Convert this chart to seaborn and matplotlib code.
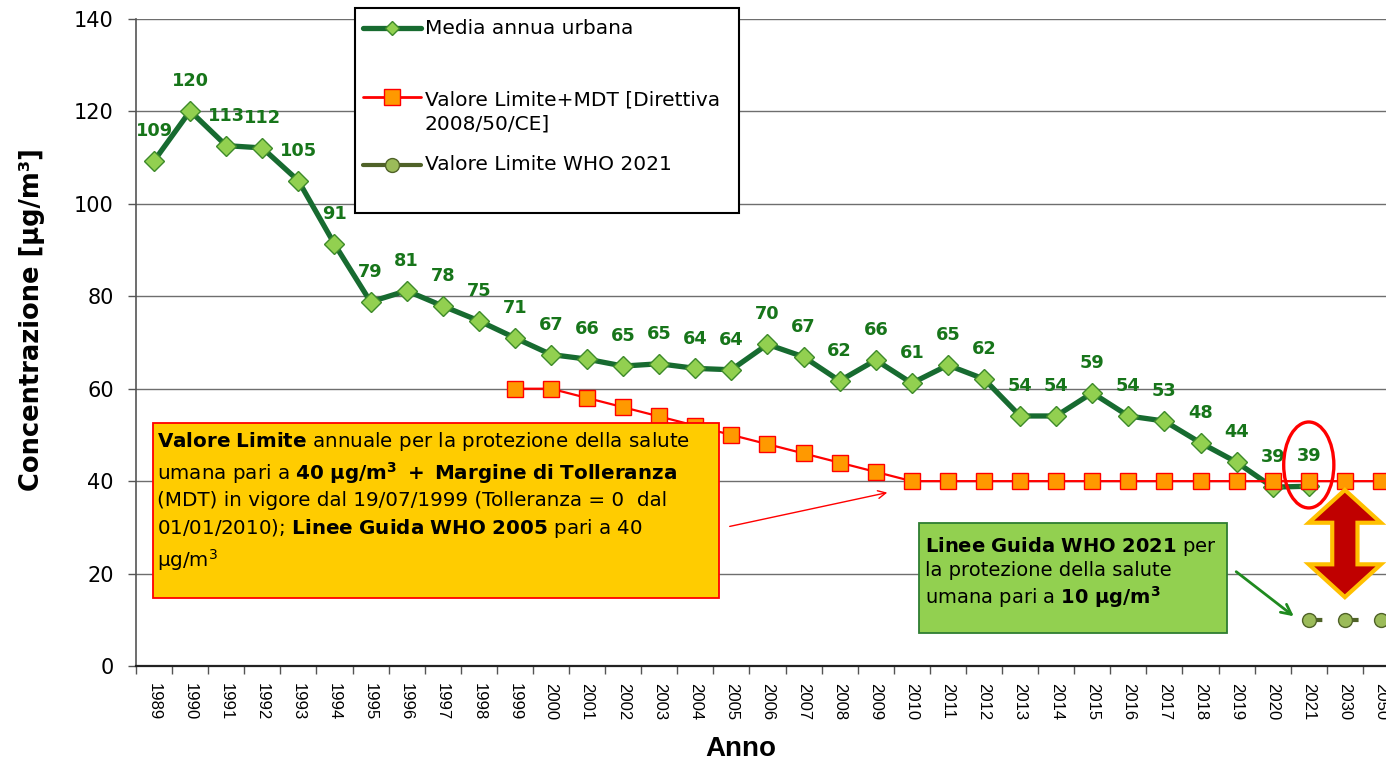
import matplotlib
matplotlib.use("Agg")
import matplotlib.pyplot as plt
from matplotlib.lines import Line2D
from matplotlib.patches import Rectangle, Ellipse, Polygon
import seaborn as sns
import pandas as pd
import numpy as np

# years on the (categorical) x axis
years = ['1989', '1990', '1991', '1992', '1993', '1994', '1995', '1996', '1997',
         '1998', '1999', '2000', '2001', '2002', '2003', '2004', '2005', '2006',
         '2007', '2008', '2009', '2010', '2011', '2012', '2013', '2014', '2015',
         '2016', '2017', '2018', '2019', '2020', '2021', '2030', '2050']

# Media annua urbana (1989-2021)
media_years = years[:33]
media = [109.3, 120.1, 112.6, 112.1, 105.0, 91.3, 78.8, 81.2, 77.9, 74.7,
         71.0, 67.4, 66.4, 64.9, 65.4, 64.4, 64.1, 69.6, 66.9, 61.7,
         66.2, 61.2, 65.1, 62.1, 54.1, 54.1, 59.1, 54.1, 53.0, 48.3,
         44.1, 38.7, 38.9]

# Valore Limite + MDT (1999-2050)
limite_years = years[10:]
limite = [60, 60, 58, 56, 54, 52, 50, 48, 46, 44, 42,
          40, 40, 40, 40, 40, 40, 40, 40, 40, 40, 40, 40, 40, 40]

# Valore Limite WHO 2021
who_years = ['2021', '2030', '2050']
who = [10, 10, 10]

pos = {y: i for i, y in enumerate(years)}
df_media = pd.DataFrame({'x': [pos[y] for y in media_years], 'val': media})
df_lim = pd.DataFrame({'x': [pos[y] for y in limite_years], 'val': limite})
df_who = pd.DataFrame({'x': [pos[y] for y in who_years], 'val': who})

sns.set_theme(style='white')
plt.rcParams['font.family'] = ['DejaVu Sans']
plt.rcParams['text.color'] = 'black'
plt.rcParams['axes.labelcolor'] = 'black'
plt.rcParams['xtick.color'] = 'black'
plt.rcParams['ytick.color'] = 'black'
plt.rcParams['mathtext.fontset'] = 'custom'
plt.rcParams['mathtext.rm'] = 'DejaVu Sans'
plt.rcParams['mathtext.bf'] = 'DejaVu Sans:bold'
plt.rcParams['mathtext.it'] = 'DejaVu Sans:italic'

W, H = 1386, 762
fig = plt.figure(figsize=(W / 100, H / 100), dpi=100)
ax = fig.add_axes([136 / W, 1 - 666 / H, 1 - 136 / W, (666 - 19) / H])

def fx(px):
    return px / W

def fy(py):
    return 1 - py / H

GREEN = '#176b30'
LBL = '#17751a'
RED = '#ff0000'
OLIVE = '#4f6228'

sns.lineplot(data=df_media, x='x', y='val', ax=ax, color=GREEN, lw=3.8,
             marker='D', markersize=10, markerfacecolor='#92d050',
             markeredgecolor='#3d8a2a', markeredgewidth=1, zorder=3)
sns.lineplot(data=df_lim, x='x', y='val', ax=ax, color=RED, lw=1.6,
             marker='s', markersize=12, markerfacecolor='#ff9900',
             markeredgecolor=RED, markeredgewidth=1, zorder=4)
sns.lineplot(data=df_who, x='x', y='val', ax=ax, color=OLIVE, lw=3,
             linestyle=(0, (3.2, 5.5)), marker='o', markersize=10,
             markerfacecolor='#9bbb59', markeredgecolor=OLIVE,
             markeredgewidth=1, zorder=4)

for xi, v in zip(df_media['x'], df_media['val']):
    ax.annotate(f"{v:.0f}", (xi, v), xytext=(0, 21.5), textcoords='offset points',
                ha='center', va='center', fontsize=12.8, fontweight='bold',
                color=LBL, zorder=6)

ax.set_xlim(-0.5, 34.14)
ax.set_ylim(0, 140)
ax.set_yticks(range(0, 141, 20))
ax.tick_params(axis='y', labelsize=15, length=6, width=1, color='#555555',
               direction='out', left=True, pad=10)
ax.set_xticks(range(len(years)))
ax.set_xticklabels(years, rotation=270, fontsize=12, family='Liberation Sans')
ax.set_xticks(np.arange(len(years)) - 0.5, minor=True)
ax.tick_params(axis='x', which='major', length=0, pad=12)
ax.tick_params(axis='x', which='minor', length=6, width=1, color='#555555',
               direction='out', bottom=True)
ax.yaxis.grid(True, color='#6e6e6e', lw=1)
ax.xaxis.grid(False)
ax.set_axisbelow(True)
for s in ['top', 'right']:
    ax.spines[s].set_visible(False)
ax.spines['left'].set_color('#555555')
ax.spines['left'].set_linewidth(1.2)
ax.spines['bottom'].set_color('#222222')
ax.spines['bottom'].set_linewidth(1.6)

ax.set_xlabel('Anno', fontsize=20, fontweight='bold', family='Liberation Sans')
ax.xaxis.set_label_coords((741 - 136) / 1250, (666 - 736) / 647)
ax.set_ylabel('Concentrazione [µg/m³]', fontsize=18.5, fontweight='bold')
ax.yaxis.set_label_coords((45 - 136) / 1250, (666 - 320) / 647)

# legend box drawn by hand
fig.add_artist(Rectangle((fx(355), fy(213)), fx(739) - fx(355), fy(8) - fy(213),
                         transform=fig.transFigure, facecolor='white',
                         edgecolor='black', lw=1.5, zorder=10))
legend_items = [
    (28, dict(color=GREEN, lw=3.8, marker='D', markersize=7, markerfacecolor='#92d050',
              markeredgecolor='#3d8a2a'), 'Media annua urbana', 28),
    (97, dict(color=RED, lw=2, marker='s', markersize=11, markerfacecolor='#ff9900',
              markeredgecolor=RED), 'Valore Limite+MDT [Direttiva\n2008/50/CE]', 112),
    (165, dict(color=OLIVE, lw=3, marker='o', markersize=10, markerfacecolor='#9bbb59',
               markeredgecolor=OLIVE), 'Valore Limite WHO 2021', 165),
]
for ly, style, label, ty in legend_items:
    fig.add_artist(Line2D([fx(363), fx(392), fx(421)], [fy(ly)] * 3,
                          transform=fig.transFigure, markevery=[1], zorder=11, **style))
    fig.text(fx(425), fy(ty), label, fontsize=14.5, va='center', ha='left',
             linespacing=1.4, zorder=11)

# orange note box
fig.add_artist(Rectangle((fx(153), fy(598)), fx(719) - fx(153), fy(423) - fy(598),
                         transform=fig.transFigure, facecolor='#ffcc00',
                         edgecolor=RED, lw=1.3, zorder=8))
orange_txt = (r"$\mathbf{Valore\ Limite}$ annuale per la protezione della salute" + "\n"
              r"umana pari a $\mathbf{40\ µg/m^3\ +\ Margine\ di\ Tolleranza}$" + "\n"
              "(MDT) in vigore dal 19/07/1999 (Tolleranza = 0  dal\n"
              r"01/01/2010); $\mathbf{Linee\ Guida\ WHO\ 2005}$ pari a 40" + "\n"
              r"µg/m$^3$")
fig.text(fx(157), fy(430), orange_txt, fontsize=14.3, va='top', ha='left',
         linespacing=1.36, zorder=9)

# green note box
fig.add_artist(Rectangle((fx(919), fy(633)), fx(1227) - fx(919), fy(523) - fy(633),
                         transform=fig.transFigure, facecolor='#92d050',
                         edgecolor='#2e7d32', lw=1.3, zorder=8))
green_txt = (r"$\mathbf{Linee\ Guida\ WHO\ 2021}$ per" + "\n"
             "la protezione della salute\n"
             r"umana pari a $\mathbf{10\ µg/m^3}$")
fig.text(fx(925), fy(535), green_txt, fontsize=14, va='top', ha='left',
         linespacing=1.2, zorder=9)

# arrows
ax.annotate('', xy=(fx(890), fy(492)), xytext=(fx(727), fy(527)),
            xycoords='figure fraction', textcoords='figure fraction',
            arrowprops=dict(arrowstyle='->', color=RED, lw=1, mutation_scale=14),
            zorder=9)
ax.annotate('', xy=(fx(1296), fy(618)), xytext=(fx(1234), fy(570)),
            xycoords='figure fraction', textcoords='figure fraction',
            arrowprops=dict(arrowstyle='->', color='#1f8a1f', lw=2, mutation_scale=18),
            zorder=9)

# highlight of the 2021 value
ax.add_patch(Ellipse((pos['2021'], 43.5), 1.39, 18.6, fill=False, edgecolor=RED,
                     lw=2.4, zorder=7))

# double block arrow between the two limits
cx = pos['2030']
top, bot = 38.1, 14.9
hw, sw, hl = 1.0, 0.35, 7.1
arrow_pts = [(cx, top), (cx + hw, top - hl), (cx + sw, top - hl), (cx + sw, bot + hl),
             (cx + hw, bot + hl), (cx, bot), (cx - hw, bot + hl), (cx - sw, bot + hl),
             (cx - sw, top - hl), (cx - hw, top - hl)]
ax.add_patch(Polygon(arrow_pts, closed=True, facecolor='#c00000', edgecolor='#ffc000',
                     lw=3, joinstyle='miter', zorder=7))

fig.savefig('out.png', dpi=100)
